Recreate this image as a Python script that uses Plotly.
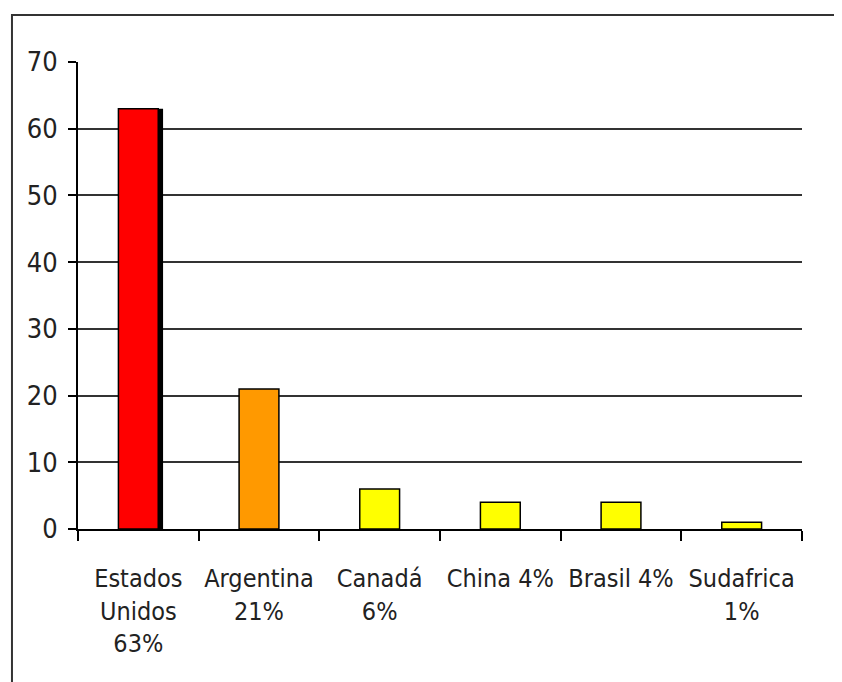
import plotly.graph_objects as go

# Data
categories = ["Estados<br>Unidos<br>63%", "Argentina<br>21%", "Canadá<br>6%",
              "China 4%", "Brasil 4%", "Sudafrica<br>1%"]
values = [63, 21, 6, 4, 4, 1]
bar_colors = ["#ff0000", "#ff9900", "#ffff00", "#ffff00", "#ffff00", "#ffff00"]
y_ticks = [0, 10, 20, 30, 40, 50, 60, 70]

FONT = "DejaVu Sans Condensed, Liberation Sans Narrow, Arial Narrow, sans-serif"
BAR_W = 0.33

fig = go.Figure()

# dark shadow on the right side of the tallest bar
shadow = [v if i == 0 else None for i, v in enumerate(values)]
fig.add_trace(go.Bar(
    x=categories,
    y=shadow,
    width=BAR_W,
    offset=-BAR_W / 2 + 0.04,
    marker=dict(color="#000000", line=dict(width=0)),
    hoverinfo="skip",
    showlegend=False,
))

fig.add_trace(go.Bar(
    x=categories,
    y=values,
    width=BAR_W,
    offset=-BAR_W / 2,
    marker=dict(color=bar_colors, line=dict(color="#000000", width=1.5)),
    showlegend=False,
))

# outer chart frame (cropped at right and bottom, like the reference)
fig.add_shape(
    type="rect", xref="paper", yref="paper",
    x0=-0.0912, x1=1.3, y0=-0.6, y1=1.1006,
    line=dict(color="#333333", width=2),
    layer="below",
)

fig.update_layout(
    width=842,
    height=682,
    margin=dict(l=70, r=48, t=54, b=161),
    barmode="overlay",
    plot_bgcolor="#ffffff",
    paper_bgcolor="#ffffff",
    font=dict(family=FONT, size=25, color="#222222"),
    xaxis=dict(
        automargin=False,
        tickangle=0,
        showgrid=False,
        showline=True,
        linecolor="#000000",
        linewidth=2,
        ticks="outside",
        tickson="boundaries",
        ticklen=10,
        tickwidth=2,
        tickcolor="#000000",
        ticklabelstandoff=26,
        tickfont=dict(family=FONT, size=25, color="#222222"),
    ),
    yaxis=dict(
        automargin=False,
        range=[0, 70],
        tickvals=y_ticks,
        showgrid=True,
        gridcolor="#333333",
        gridwidth=2,
        zeroline=False,
        showline=True,
        linecolor="#000000",
        linewidth=2,
        ticks="outside",
        ticklen=8,
        tickwidth=2,
        tickcolor="#000000",
        ticklabelstandoff=5,
        tickfont=dict(family=FONT, size=27, color="#222222"),
    ),
)

fig.write_html("out.html")
